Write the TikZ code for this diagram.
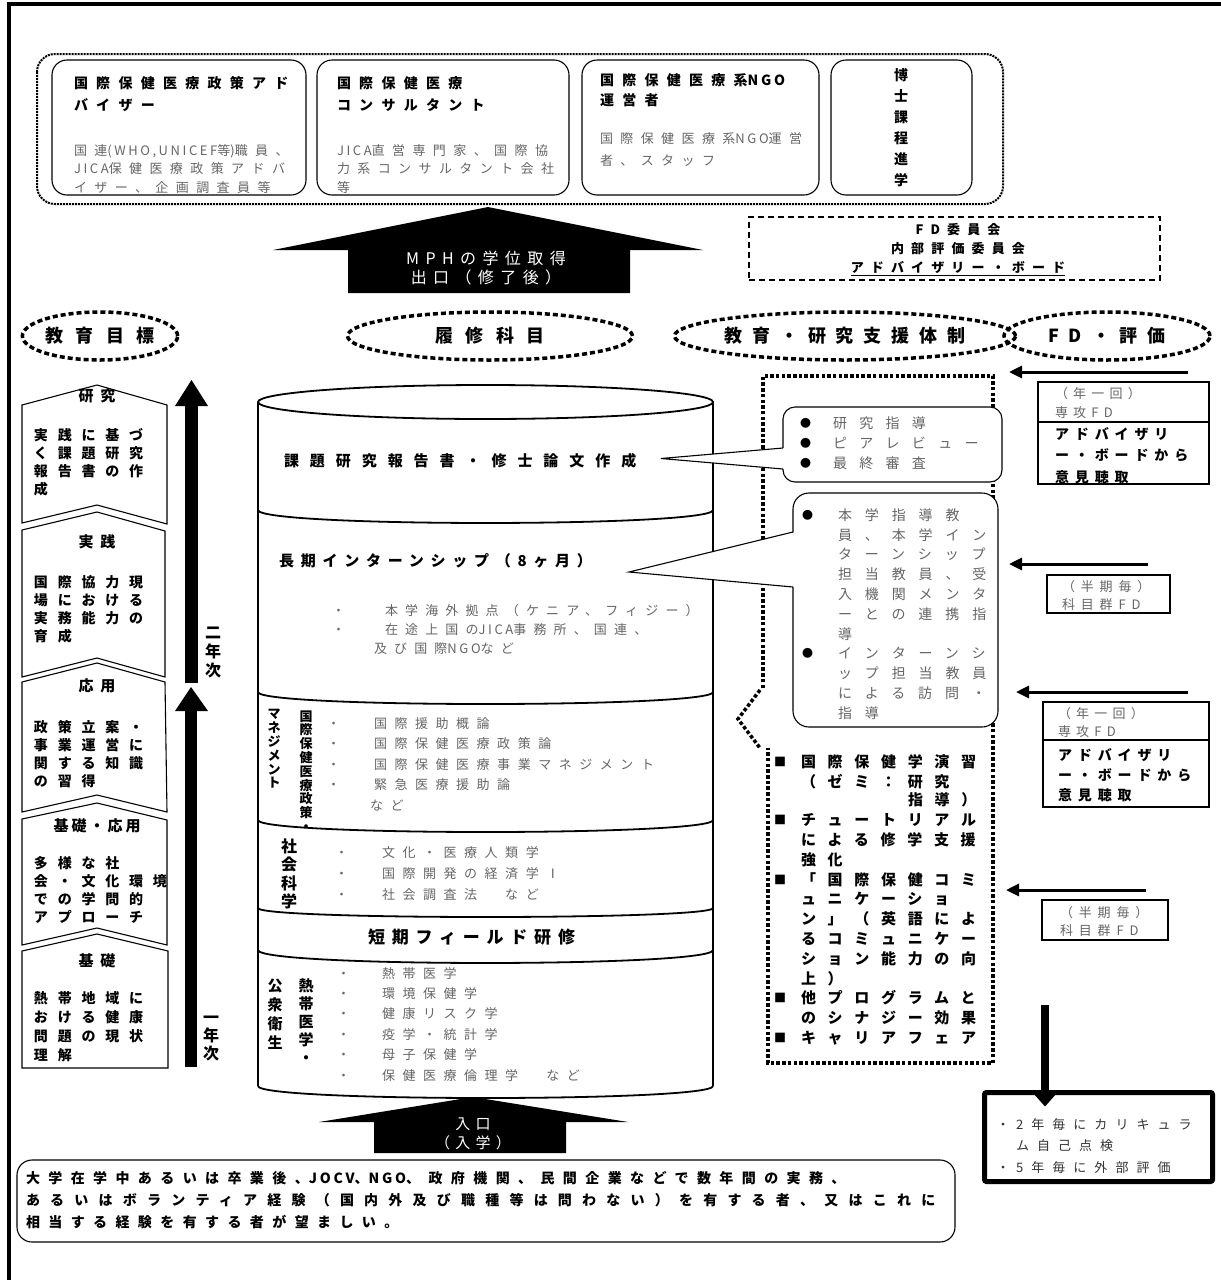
\documentclass[tikz,border=0pt]{standalone}
\usepackage{fontspec}
\usetikzlibrary{shapes.geometric,arrows.meta}
\newfontfamily\jp{Noto Sans CJK JP}
\newcommand\jbf[3]{\jp\bfseries\fontsize{#1}{#2}\selectfont\addfontfeature{LetterSpace=#3}}
\newcommand\jrf[3]{\jp\fontsize{#1}{#2}\selectfont\addfontfeature{LetterSpace=#3}}
\newcommand\jlat[1]{{\addfontfeature{LetterSpace=20}#1}}
\newcommand\VT[1]{\vtop{\halign{##\hfil\cr#1\crcr}}}
\definecolor{gtxt}{gray}{0.4}
\begin{document}
\begin{tikzpicture}[x=1pt,y=-1pt,
  every node/.style={inner sep=0pt, outer sep=0pt},
  lbl/.style={anchor=base west},
  rbox/.style={draw, line width=1.1pt, rounded corners=15pt, anchor=north west},
  sbox/.style={draw, line width=1.2pt, anchor=north west},
  dotline/.style={line width=3.5pt, dash pattern=on 3.5pt off 2.2pt},
  dashell/.style={ellipse, draw, line width=3.5pt, dash pattern=on 5pt off 3pt},
  fdarr/.style={line width=3pt, -{Triangle[length=13pt,width=12pt]}},
  pent/.style={draw, line width=1.1pt, fill=white, line join=miter},
  cyl/.style={line width=1.8pt},
  gt/.style={text=gtxt},
]
\fill[white] (0,0) rectangle (1221,1280);
\useasboundingbox (0,0) rectangle (1221,1280);
% frame
\draw[line width=4pt] (9,1280) -- (9,4) -- (1221,4);

% ===== top container =====
\draw[line width=2pt, densely dotted, rounded corners=18pt] (37,54) rectangle (1003,204);
\node[rbox, minimum width=254, minimum height=135] (b1) at (52,60) {};
\node[rbox, minimum width=252, minimum height=135] (b2) at (317,60) {};
\node[rbox, minimum width=237, minimum height=135] (b3) at (582,60) {};
\node[rbox, minimum width=141, minimum height=135] (b4) at (831,60) {};
\node[lbl, font={\jbf{14}{22}{59}}] (b1a) at (74,88.3) {\VT{国際保健医療政策アド\cr バイザー}};
\node[lbl, gt, font={\jrf{13}{18.5}{57}}] (b1b) at (74,155) {\VT{国連\jlat{(WHO,UNICEF}等\jlat{)}職員、\cr\jlat{JICA}保健医療政策アドバ\cr イザー、企画調査員等}};
\node[lbl, font={\jbf{14}{22}{59}}] (b2a) at (337,88.3) {\VT{国際保健医療\cr コンサルタント}};
\node[lbl, gt, font={\jrf{13}{18.5}{57}}] (b2b) at (337,155) {\VT{\jlat{JICA}直営専門家、国際協\cr 力系コンサルタント会社\cr 等}};
\node[lbl, font={\jbf{14}{20}{59}}] (b3a) at (600,85.3) {\VT{国際保健医療系\jlat{NGO}\cr 運営者}};
\node[lbl, gt, font={\jrf{13}{22}{57}}] (b3b) at (600,143) {\VT{国際保健医療系\jlat{NGO}運営\cr 者、スタッフ}};
\node[align=center, font={\jbf{14}{21}{0}}] (b4a) at (901,128) {博\\士\\課\\程\\進\\学};

% ===== exit arrow =====
\fill[black] (488,207) -- (703,250) -- (630,250) -- (630,293) -- (348,293) -- (348,250) -- (273,250) -- cycle;
\node[align=center, text=white, font={\jrf{16}{19}{40}}] (mph) at (486,268) {MPHの学位取得\\出口（修了後）};

% ===== FD committee =====
\node[draw, line width=1.5pt, dash pattern=on 6pt off 4pt, anchor=north west, minimum width=411, minimum height=63] (fdc) at (749,217) {};
\node[align=center, font={\jbf{13}{19}{55}}] (fdct) at (958,250) {FD委員会\\内部評価委員会\\\underline{アドバイザリー・ボード}};

% ===== header ellipses =====
\node[dashell, minimum width=148, minimum height=48, font={\jbf{18}{20}{70}}] (e1) at (100,336) {教育目標};
\node[dashell, minimum width=285, minimum height=48, font={\jbf{18}{20}{70}}] (e2) at (490,336) {履修科目};
\node[dashell, minimum width=300, minimum height=48, font={\jbf{18}{20}{55}}] (e3) at (845,336) {教育・研究支援体制};
\node[dashell, minimum width=206, minimum height=48, font={\jbf{18}{20}{55}}] (e4) at (1107,336) {FD・評価};

% ===== left goals =====
\fill (185,683) rectangle (198,404);
\fill (175,406) -- (191.5,380) -- (208,406) -- cycle;
\fill (185,1067) rectangle (197,709);
\fill (175,711) -- (191,687) -- (208,711) -- cycle;
\node[align=center, font={\jbf{16}{19}{0}}] (y2) at (213,652) {二\\年\\次};
\node[align=center, font={\jbf{16}{18}{0}}] (y1) at (211,1038) {一\\年\\次};

\draw[pent] (22,405) -- (97,385) -- (167,405) -- (167,524) -- (97,505) -- (22,523) -- cycle;
\draw[pent] (22,530) -- (97,512) -- (165,531) -- (165,677) -- (97,658) -- (22,677) -- cycle;
\draw[pent] (22,682) -- (97,663) -- (165,682) -- (167,812) -- (97,795) -- (22,812) -- cycle;
\draw[pent] (22,819) -- (97,803) -- (167,820) -- (167,945) -- (97,928) -- (22,945) -- cycle;
\draw[pent] (22,951) -- (97,934) -- (168,951) -- (168,1068) -- (22,1068) -- cycle;
\node[font={\jbf{15}{18}{45}}] (g1h) at (97,396) {研究};
\node[font={\jbf{15}{18}{45}}] (g2h) at (97,542) {実践};
\node[font={\jbf{15}{18}{45}}] (g3h) at (97,686) {応用};
\node[font={\jbf{15}{18}{20}}] (g4h) at (97,826) {基礎・応用};
\node[font={\jbf{15}{18}{45}}] (g5h) at (97,961) {基礎};
\node[lbl, font={\jbf{14}{18}{70}}] (g1) at (34,440.3) {\VT{実践に基づ\cr く課題研究\cr 報告書の作\cr 成}};
\node[lbl, font={\jbf{14}{18}{70}}] (g2) at (34,587.3) {\VT{国際協力現\cr 場における\cr 実務能力の\cr 育成}};
\node[lbl, font={\jbf{14}{18}{70}}] (g3) at (34,732.3) {\VT{政策立案・\cr 事業運営に\cr 関する知識\cr の習得}};
\node[lbl, font={\jbf{14}{18}{70}}] (g4) at (34,868.3) {\VT{多様な社\cr 会・文化環境\cr での学問的\cr アプローチ}};
\node[lbl, font={\jbf{14}{19}{70}}] (g5) at (34,1003.3) {\VT{熱帯地域に\cr おける健康\cr 問題の現状\cr 理解}};

% ===== cylinder =====
\draw[cyl] (258,402) -- (258,1086);
\draw[cyl] (713,402) -- (713,1086);
\draw[cyl] (485.5,402) ellipse [x radius=227.5, y radius=17];
\draw[cyl] (258,510) .. controls (258,527.3) and (713,527.3) .. (713,510);
\draw[cyl] (258,692) .. controls (258,708) and (713,708) .. (713,692);
\draw[cyl] (258,820) .. controls (258,836) and (713,836) .. (713,820);
\draw[cyl] (258,908) .. controls (258,920) and (713,920) .. (713,908);
\draw[cyl] (258,950) .. controls (258,967.3) and (713,967.3) .. (713,950);
\draw[cyl] (258,1086) .. controls (258,1102) and (713,1102) .. (713,1086);

\node[lbl, font={\jbf{15}{18}{73}}] (c1) at (284,466) {課題研究報告書・修士論文作成};
\node[lbl, font={\jbf{15}{18}{45}}] (c2) at (279,566.7) {長期インターンシップ（8ヶ月）};
\node[lbl, gt, font={\jrf{13}{19.5}{55}}] (c2b) at (332,615) {\VT{・\cr ・}};
\node[lbl, gt, font={\jrf{13}{19.5}{55}}] (c2i) at (385,615) {\VT{本学海外拠点（ケニア、フィジー）\cr 在途上国の\jlat{JICA}事務所、国連、}};
\node[lbl, gt, font={\jrf{13}{19.5}{55}}] (c2j) at (374,653.5) {及び国際\jlat{NGO}など};

\node[align=center, font={\jbf{13}{13.8}{0}}] (c3v1) at (306,771) {国\\際\\保\\健\\医\\療\\政\\策\\・};
\node[align=center, font={\jbf{13}{13.8}{0}}] (c3v2) at (274,749) {マ\\ネ\\ジ\\メ\\ン\\ト};
\node[lbl, gt, font={\jrf{13}{20.5}{58}}] (c3b) at (327,728) {\VT{・\cr ・\cr ・\cr ・}};
\node[lbl, gt, font={\jrf{13}{20.5}{58}}] (c3i) at (374,728) {\VT{国際援助概論\cr 国際保健医療政策論\cr 国際保健医療事業マネジメント\cr 緊急医療援助論}};
\node[lbl, gt, font={\jrf{13}{20.5}{58}}] (c3n) at (370,810) {など};

\node[align=center, font={\jbf{16}{18.5}{0}}] (c4v) at (289,874) {社\\会\\科\\学};
\node[lbl, gt, font={\jrf{13}{21}{58}}] (c4b) at (335,857) {\VT{・\cr ・\cr ・}};
\node[lbl, gt, font={\jrf{13}{21}{58}}] (c4i) at (382,857) {\VT{文化・医療人類学\cr 国際開発の経済学Ⅰ\cr 社会調査法　など}};

\node[lbl, font={\jbf{17}{20}{40}}] (c5) at (368,943.5) {短期フィールド研修};

\node[align=center, font={\jbf{15}{18}{0}}] (c6v1) at (306,1021) {熱\\帯\\医\\学\\・};
\node[align=center, font={\jbf{15}{19}{0}}] (c6v2) at (275,1014) {公\\衆\\衛\\生};
\node[lbl, gt, font={\jrf{13}{20.4}{58}}] (c6b) at (337,978) {\VT{・\cr ・\cr ・\cr ・\cr ・\cr ・}};
\node[lbl, gt, font={\jrf{13}{20.4}{58}}] (c6i) at (382,978) {\VT{熱帯医学\cr 環境保健学\cr 健康リスク学\cr 疫学・統計学\cr 母子保健学\cr 保健医療倫理学　など}};

% ===== entrance arrow & bottom box =====
\fill[black] (473,1097) -- (628,1122) -- (566,1122) -- (566,1153) -- (374,1153) -- (374,1122) -- (319,1122) -- cycle;
\node[align=center, text=white, font={\jrf{15}{19}{35}}] (ent) at (473,1134) {入口\\（入学）};
\node[rbox, minimum width=938, minimum height=82] (bot) at (17,1160) {};
\node[lbl, font={\jbf{14}{22}{60}}] (bott) at (26,1183.3) {\VT{大学在学中あるいは卒業後、\jlat{JOCV}、\jlat{NGO}、政府機関、民間企業などで数年間の実務、\cr {\addfontfeature{LetterSpace=73}あるいはボランティア経験（国内外及び職種等は問わない）を有する者、又はこれに}\cr 相当する経験を有する者が望ましい。}};

% ===== support frame =====
\draw[dotline] (763,688) -- (763,376) -- (993,376) -- (993,1063) -- (768,1063) -- (768,748);
\draw[dotline] (760,690) -- (738,719) -- (760,748);

% callout 1
\node[rbox, fill=white, rounded corners=12pt, minimum width=219, minimum height=75] (co1) at (783,407) {};
\fill[white] (785,448) -- (661,458.5) -- (785,469) -- cycle;
\draw[line width=1.1pt] (783,448) -- (661,458.5) -- (783,469);
\node[lbl, font={\jrf{11}{20}{0}}] (co1b) at (800,427.2) {\VT{●\cr ●\cr ●}};
\node[lbl, gt, font={\jrf{14}{20}{88}}] (co1t) at (833,428.3) {\VT{研究指導\cr ピアレビュー\cr 最終審査}};

% callout 2
\node[rbox, fill=white, rounded corners=16pt, minimum width=205, minimum height=234] (co2) at (793,493) {};
\fill[white] (795,532) -- (629,572) -- (795,587) -- cycle;
\draw[line width=1.1pt] (793,532) -- (629,572) -- (793,587);
\node[lbl, font={\jrf{11}{20}{0}}] (co2b1) at (802,519.2) {●};
\node[lbl, font={\jrf{11}{20}{0}}] (co2b2) at (802,657.2) {●};
\node[lbl, gt, font={\jrf{14}{19.8}{92}}] (co2t) at (838,520.3) {\VT{本学指導教\cr 員、本学イン\cr ターンシップ\cr 担当教員、受\cr 入機関メンタ\cr ーとの連携指\cr 導\cr インターンシ\cr ップ担当教員\cr による訪問・\cr 指導}};

% lower support list
\node[lbl, font={\jbf{12}{20}{0}}] (sq1) at (774,766.5) {■};
\node[lbl, font={\jbf{12}{20}{0}}] (sq2) at (774,824.5) {■};
\node[lbl, font={\jbf{12}{20}{0}}] (sq3) at (774,884) {■};
\node[lbl, font={\jbf{12}{20}{0}}] (sq4) at (774,1002.8) {■};
\node[lbl, font={\jbf{12}{20}{0}}] (sq5) at (774,1042.4) {■};
\node[lbl, font={\jbf{15}{19.7}{78}}] (sp1) at (801,767.7) {\VT{国際保健学演習\cr （ゼミ：研究}};
\node[lbl, font={\jbf{15}{19.7}{78}}] (sp2) at (908,805.7) {指導）};
\node[lbl, font={\jbf{15}{19.8}{78}}] (sp3) at (801,825.7) {\VT{チュートリアル\cr による修学支援\cr 強化\cr 「国際保健コミ\cr ュニケーショ\cr ン」（英語によ\cr るコミュニケー\cr ション能力の向\cr 上）\cr 他プログラムと\cr のシナジー効果\cr キャリアフェア}};

% ===== FD side =====
\coordinate (a1s) at (1188,372); \coordinate (a1e) at (1009,372);
\coordinate (a2s) at (1148,564); \coordinate (a2e) at (1009,564);
\coordinate (a3s) at (1188,692); \coordinate (a3e) at (1016,692);
\coordinate (a4s) at (1146,890); \coordinate (a4e) at (1006,890);
\draw[fdarr] (a1s) -- (a1e);
\draw[fdarr] (a2s) -- (a2e);
\draw[fdarr] (a3s) -- (a3e);
\draw[fdarr] (a4s) -- (a4e);

\node[sbox, minimum width=171, minimum height=102] (fdA) at (1038,382) {};
\draw[line width=1.2pt] (1038,422) -- (1209,422);
\node[lbl, gt, font={\jrf{13}{19}{40}}] (fdA1) at (1055,398) {\VT{（年一回）\cr 専攻FD}};
\node[lbl, font={\jbf{14}{21.5}{42}}] (fdA2) at (1055,439.3) {\VT{アドバイザリ\cr ー・ボードから\cr 意見聴取}};

\node[sbox, minimum width=123, minimum height=38] (fdB) at (1047,575) {};
\node[lbl, gt, font={\jrf{13}{18}{45}}] (fdB1) at (1062,591) {\VT{（半期毎）\cr 科目群FD}};

\node[sbox, minimum width=166, minimum height=105] (fdC) at (1043,702) {};
\draw[line width=1.2pt] (1043,740) -- (1209,740);
\node[lbl, gt, font={\jrf{13}{18}{40}}] (fdC1) at (1058,718) {\VT{（年一回）\cr 専攻FD}};
\node[lbl, font={\jbf{14}{20}{42}}] (fdC2) at (1058,760.3) {\VT{アドバイザリ\cr ー・ボードから\cr 意見聴取}};

\node[sbox, minimum width=126, minimum height=40] (fdD) at (1042,900) {};
\node[lbl, gt, font={\jrf{13}{18}{45}}] (fdD1) at (1060,917) {\VT{（半期毎）\cr 科目群FD}};

\node[draw, line width=5pt, rounded corners=2pt, anchor=north west, minimum width=228, minimum height=89] (ev) at (984.5,1092.5) {};
\coordinate (dA) at (1045,1005);
\draw[line width=8pt, -{Triangle[length=14pt,width=24pt]}] (dA) -- (ev.north -| dA) -- ++(0,14);
\node[lbl, text=black!80, font={\jrf{13}{21.5}{0}}] (evb1) at (996.5,1129) {・};
\node[lbl, text=black!80, font={\jrf{13}{21.5}{0}}] (evb2) at (996.5,1172) {・};
\node[lbl, text=black!80, font={\jrf{13}{21.5}{62}}] (evt) at (1016,1129) {\VT{2年毎にカリキュラ\cr ム自己点検\cr 5年毎に外部評価}};
\end{tikzpicture}
\end{document}
